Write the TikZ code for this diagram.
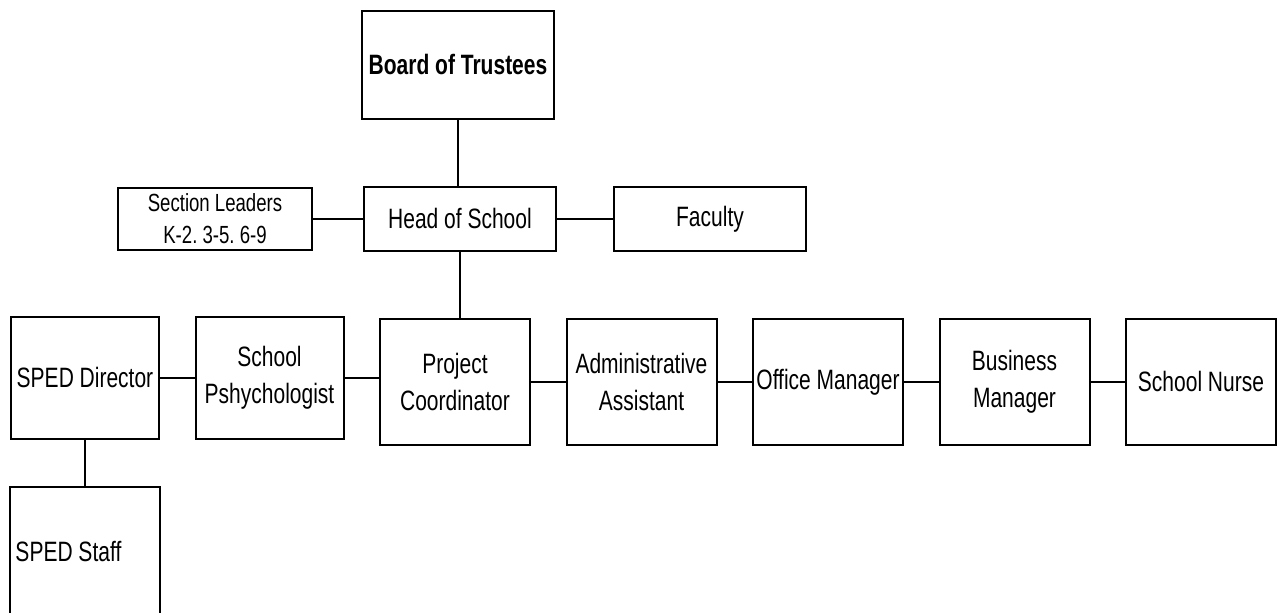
\documentclass[tikz,border=0pt]{standalone}
\usepackage{fontspec}
\setmainfont{Liberation Sans}[FakeStretch=0.75]
\usetikzlibrary{positioning}
\frenchspacing

\begin{document}
\begin{tikzpicture}[every node/.style={draw, line width=1pt, align=center, inner sep=0pt,
  font=\fontsize{14}{18.3}\selectfont},
  topbox/.style={minimum width=96pt, minimum height=32pt},
  rowbox/.style={minimum width=75pt, minimum height=63pt},
  link/.style={line width=1pt}]
  \clip (0,0) rectangle (641pt,306.5pt);
  \node[minimum width=96pt, minimum height=54pt, font=\fontsize{14}{18.3}\selectfont\bfseries]
    (board) at (229pt,274pt) {Board of Trustees};
  \node[topbox, below=33pt of board, xshift=1pt] (head) {Head of School};
  \node[topbox, minimum width=97pt, minimum height=31pt, left=25pt of head,
    font=\fontsize{12.4}{16}\selectfont] (leaders) {Section Leaders\\ K-2. 3-5. 6-9};
  \node[topbox, right=28pt of head] (faculty) {Faculty};
  \node[rowbox, below=33pt of head, xshift=-2.5pt] (coord) {Project\\ Coordinator};
  \node[rowbox, minimum width=74pt, minimum height=61pt, left=17.25pt of coord, yshift=2pt]
    (psych) {School\\ Pshychologist};
  \node[rowbox, minimum width=74pt, minimum height=61pt, left=17.25pt of psych] (sped) {SPED Director};
  \node[rowbox, right=17.25pt of coord] (admin) {Administrative\\ Assistant};
  \node[rowbox, right=17.25pt of admin] (office) {Office Manager};
  \node[rowbox, right=17.25pt of office] (business) {Business\\ Manager};
  \node[rowbox, right=17.25pt of business] (nurse) {School Nurse};
  \node[rowbox, minimum height=65pt, text width=69.5pt, align=flush left, inner xsep=2.75pt,
    below=23pt of sped] (staff) {SPED Staff};
  \draw[link] (board.south) -- (board.south |- head.north);
  \draw[link] (leaders.east) -- (leaders.east -| head.west);
  \draw[link] (head.east) -- (faculty.west);
  \draw[link] (head.south) -- (head.south |- coord.north);
  \draw[link] (sped.east) -- (psych.west);
  \draw[link] (psych.east) -- (psych.east -| coord.west);
  \draw[link] (coord.east) -- (admin.west);
  \draw[link] (admin.east) -- (office.west);
  \draw[link] (office.east) -- (business.west);
  \draw[link] (business.east) -- (nurse.west);
  \draw[link] (sped.south) -- (sped.south |- staff.north);
\end{tikzpicture}
\end{document}
